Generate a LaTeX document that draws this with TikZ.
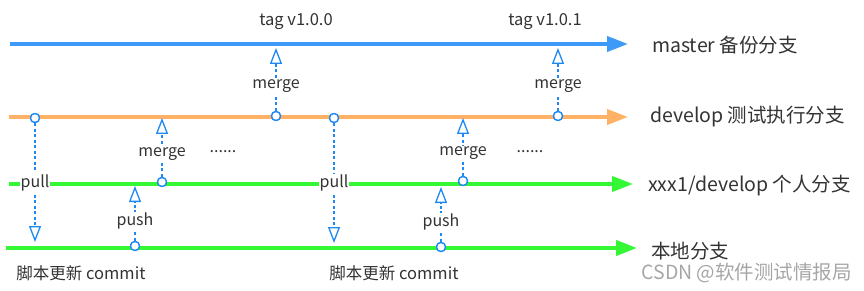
\documentclass[tikz,border=0pt]{standalone}
\usepackage{fontspec}
\setmainfont{Noto Sans CJK SC}
\usepackage{xcolor}
\usepackage{tikz}
\usetikzlibrary{arrows.meta}
\definecolor{gitBlue}{HTML}{3D9BF7}
\definecolor{gitOrange}{HTML}{FFB166}
\definecolor{gitGreen}{HTML}{33F833}
\definecolor{gitLink}{HTML}{1E88F5}
\definecolor{gitText}{HTML}{333333}
\definecolor{gitMark}{HTML}{A6A6A6}

\begin{document}
\begin{tikzpicture}[
  x=1pt, y=-1pt,
  every node/.style={text=gitText},
  branchline/.style={line width=4pt, -{Triangle[length=21pt, width=15pt]}},
  conn/.style={gitLink, line width=1.3pt, dash pattern=on 3pt off 2.5pt,
    -{Triangle[open, length=16pt, width=12pt]}},
  commit/.style={circle, draw=gitLink, fill=white, line width=1.3pt,
    minimum size=9pt, inner sep=0pt},
  blabel/.style={anchor=west, inner sep=0pt, font=\fontsize{19.5}{22}\selectfont},
  lbl/.style={fill=white, inner sep=1pt, font=\fontsize{16}{18}\selectfont},
  note/.style={font=\fontsize{16.5}{19}\selectfont},
]
\useasboundingbox (0,0) rectangle (864,291);

% Branch ends
\coordinate (mStart) at (10,44);  \coordinate (mEnd) at (628,44);
\coordinate (dStart) at (9,117);  \coordinate (dEnd) at (628,117);
\coordinate (xStart) at (9,184);  \coordinate (xEnd) at (633,184);
\coordinate (lStart) at (6,248);  \coordinate (lEnd) at (637,248);

% Branches
\draw[branchline, gitBlue] (mStart) -- (mEnd);
\draw[branchline, gitOrange] (dStart) -- (dEnd);
\draw[branchline, gitGreen] (xStart) -- (xEnd);
\draw[branchline, gitGreen] (lStart) -- (lEnd);

% Branch labels
\node[blabel] (master) at (652,45) {master 备份分支};
\node[blabel] (develop) at (650,117) {develop 测试执行分支};
\node[blabel] (personal) at (648,186) {xxx1/develop 个人分支};
\node[blabel] (local) at (651,251) {本地分支};

% Commits
\node[commit] (d1) at (35,118) {};
\node[commit] (d2) at (276,116) {};
\node[commit] (d3) at (334,118) {};
\node[commit] (d4) at (558,116) {};
\node[commit] (x1) at (162,182) {};
\node[commit] (x2) at (463,181) {};
\node[commit] (l1) at (135,246) {};
\node[commit] (l2) at (441,247) {};

% Arrow targets
\coordinate (mt1) at (276,48);  \coordinate (mt2) at (558,48);
\coordinate (dt1) at (162,118); \coordinate (dt2) at (463,118);
\coordinate (xt1) at (135,186); \coordinate (xt2) at (441,187);
\coordinate (lt1) at (35,242);  \coordinate (lt2) at (334,243);

% Merges, pulls and pushes
\draw[conn] (d2) -- node[lbl, pos=0.39] (mg1) {merge} (mt1);
\draw[conn] (d4) -- node[lbl, pos=0.39] (mg2) {merge} (mt2);
\draw[conn] (x1) -- node[lbl, pos=0.39] (mg3) {merge} (dt1);
\draw[conn] (x2) -- node[lbl, pos=0.39] (mg4) {merge} (dt2);
\draw[conn] (d1) -- node[lbl, pos=0.5] (pl1) {pull} (lt1);
\draw[conn] (d3) -- node[lbl, pos=0.5] (pl2) {pull} (lt2);
\draw[conn] (l1) -- node[lbl, pos=0.36] (ps1) {push} (xt1);
\draw[conn] (l2) -- node[lbl, pos=0.36] (ps2) {push} (xt2);

% Commits on top
\foreach \c in {d1,d2,d3,d4,x1,x2,l1,l2}
  \node[commit] at (\c) {};

% Tags and notes
\node[note] (tag1) at (296,22) {tag v1.0.0};
\node[note] (tag2) at (545,22) {tag v1.0.1};
\node[lbl] (more1) at (223,152) {......};
\node[lbl] (more2) at (530,152) {......};
\node[note] (cm1) at (81,273) {脚本更新 commit};
\node[note] (cm2) at (394,273) {脚本更新 commit};

% Watermark
\node[anchor=west, text=gitMark, font=\fontsize{19.5}{22}\selectfont] (mark)
  at (638,273) {CSDN @软件测试情报局};

\end{tikzpicture}
\end{document}
